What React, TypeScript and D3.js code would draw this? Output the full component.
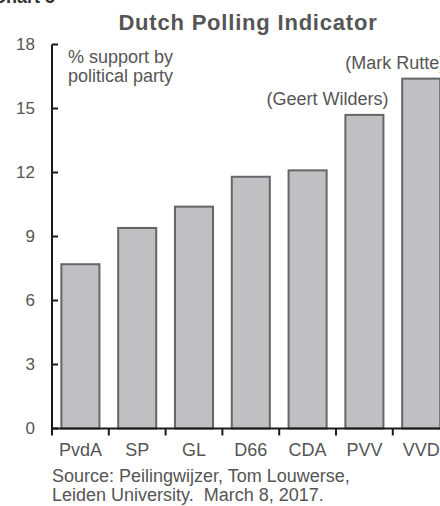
import React from "react";
import * as d3 from "d3";

const parties = ["PvdA", "SP", "GL", "D66", "CDA", "PVV", "VVD"];
const support = [7.7, 9.4, 10.4, 11.8, 12.1, 14.7, 16.4];
const yTicks = [0, 3, 6, 9, 12, 15, 18];
const leaders = [
  { party: "PVV", label: "(Geert Wilders)" },
  { party: "VVD", label: "(Mark Rutte)" },
];
const title = "Dutch Polling Indicator";
const chartNo = "Chart 5";
const unitLines = ["% support by", "political party"];
const sourceLines = ["Source: Peilingwijzer, Tom Louwerse,", "Leiden University.  March 8, 2017."];

const W = 440;
const H = 506;
const FONT = "'Liberation Sans', Arial, Helvetica, sans-serif";
const TXT = "#555";

export default function App() {
  const x = d3
    .scaleBand<string>()
    .domain(parties)
    .range([52, 449.6])
    .paddingInner(0.33)
    .paddingOuter(0.165);
  const y = d3.scaleLinear().domain([0, 18]).range([428.5, 44.5]);
  const gap = (x.step() - x.bandwidth()) / 2;
  const xTickPos = parties.map((p) => (x(p) as number) - gap);

  return (
    <div style={{ position: "absolute", left: 0, top: 0 }}>
      <svg width={W} height={H} style={{ display: "block", background: "#fff" }} fontFamily={FONT}>
        <text x={-7} y={3} fontSize={18} fontWeight="bold" fill="#333">
          {chartNo}
        </text>
        <text x={248} y={30} fontSize={22} fontWeight="bold" fill="#555" textAnchor="middle" letterSpacing={0.8}>
          {title}
        </text>

        {/* bars */}
        {parties.map((p, i) => (
          <rect
            key={p}
            x={x(p)}
            y={y(support[i])}
            width={x.bandwidth()}
            height={y(0) - y(support[i])}
            fill="#c0c0c2"
            stroke="#666"
            strokeWidth={2}
          />
        ))}

        {/* y axis */}
        <line x1={52} x2={52} y1={y(18)} y2={y(0)} stroke="#1a1a1a" strokeWidth={2} />
        {yTicks.map((t) => (
          <g key={t}>
            <line x1={52} x2={58} y1={y(t)} y2={y(t)} stroke="#1a1a1a" strokeWidth={2} />
            <text x={35} y={y(t)} dy="0.35em" textAnchor="end" fontSize={17} fill={TXT}>
              {t}
            </text>
          </g>
        ))}

        {/* x axis */}
        <line x1={51} x2={W} y1={y(0)} y2={y(0)} stroke="#1a1a1a" strokeWidth={2} />
        {xTickPos.map((tx, i) => (
          <line key={i} x1={tx} x2={tx} y1={y(0)} y2={y(0) + 7} stroke="#1a1a1a" strokeWidth={2} />
        ))}
        {parties.map((p) => (
          <text
            key={p}
            x={(x(p) as number) + x.bandwidth() / 2}
            y={456}
            textAnchor="middle"
            fontSize={18}
            fill={TXT}
          >
            {p}
          </text>
        ))}

        {/* unit label */}
        {unitLines.map((l, i) => (
          <text key={i} x={68} y={63 + i * 19} fontSize={18} fill={TXT}>
            {l}
          </text>
        ))}

        {/* leader annotations */}
        {leaders.map((d) => {
          const i = parties.indexOf(d.party);
          const right = (x(d.party) as number) + x.bandwidth();
          return (
            <text key={d.party} x={right + 5} y={y(support[i]) - 9.5} textAnchor="end" fontSize={18} fill={TXT}>
              {d.label}
            </text>
          );
        })}

        {/* source */}
        {sourceLines.map((l, i) => (
          <text key={i} x={52} y={482 + i * 19} fontSize={18} fill={TXT} style={{ whiteSpace: "pre" }}>
            {l}
          </text>
        ))}
      </svg>
    </div>
  );
}
